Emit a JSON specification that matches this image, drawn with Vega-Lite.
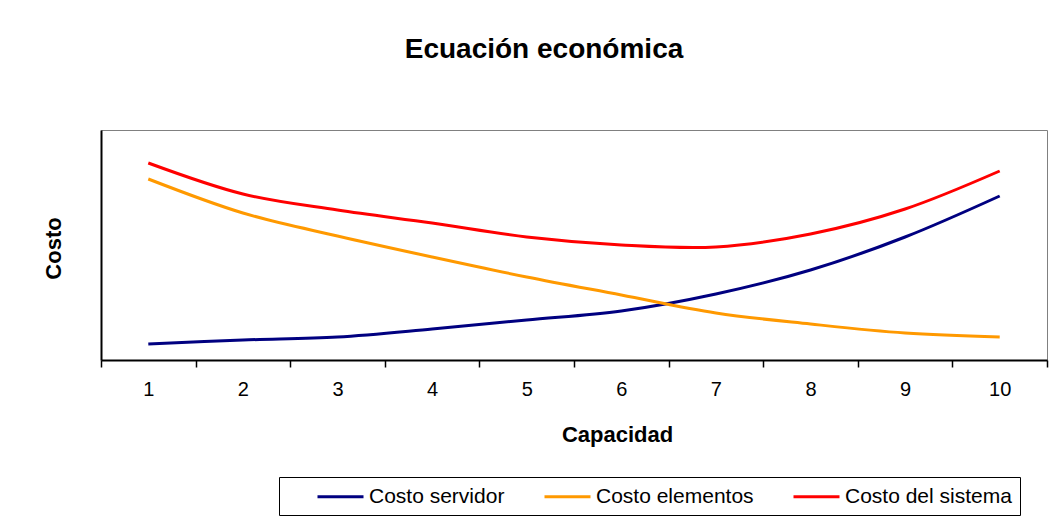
{
  "$schema": "https://vega.github.io/schema/vega-lite/v6.json",
  "width": 946,
  "height": 230,
  "autosize": {"type": "none"},
  "padding": {"left": 101, "top": 130, "right": 14, "bottom": 169},
  "background": "white",
  "title": {
    "text": "Ecuación económica",
    "font": "Liberation Sans",
    "fontSize": 28,
    "fontWeight": "bold",
    "color": "black",
    "anchor": "middle",
    "frame": "group",
    "dx": -30,
    "offset": 44,
    "baseline": "alphabetic"
  },
  "data": {
    "values": [
      {"capacidad": 1, "serie": "Costo servidor", "costo": 16},
      {"capacidad": 2, "serie": "Costo servidor", "costo": 20},
      {"capacidad": 3, "serie": "Costo servidor", "costo": 23},
      {"capacidad": 4, "serie": "Costo servidor", "costo": 31},
      {"capacidad": 5, "serie": "Costo servidor", "costo": 40},
      {"capacidad": 6, "serie": "Costo servidor", "costo": 49},
      {"capacidad": 7, "serie": "Costo servidor", "costo": 66},
      {"capacidad": 8, "serie": "Costo servidor", "costo": 90},
      {"capacidad": 9, "serie": "Costo servidor", "costo": 123},
      {"capacidad": 10, "serie": "Costo servidor", "costo": 164},
      {"capacidad": 1, "serie": "Costo elementos", "costo": 181},
      {"capacidad": 2, "serie": "Costo elementos", "costo": 147},
      {"capacidad": 3, "serie": "Costo elementos", "costo": 124},
      {"capacidad": 4, "serie": "Costo elementos", "costo": 103},
      {"capacidad": 5, "serie": "Costo elementos", "costo": 83},
      {"capacidad": 6, "serie": "Costo elementos", "costo": 65},
      {"capacidad": 7, "serie": "Costo elementos", "costo": 47},
      {"capacidad": 8, "serie": "Costo elementos", "costo": 36},
      {"capacidad": 9, "serie": "Costo elementos", "costo": 27},
      {"capacidad": 10, "serie": "Costo elementos", "costo": 23},
      {"capacidad": 1, "serie": "Costo del sistema", "costo": 197},
      {"capacidad": 2, "serie": "Costo del sistema", "costo": 166},
      {"capacidad": 3, "serie": "Costo del sistema", "costo": 150},
      {"capacidad": 4, "serie": "Costo del sistema", "costo": 137},
      {"capacidad": 5, "serie": "Costo del sistema", "costo": 123},
      {"capacidad": 6, "serie": "Costo del sistema", "costo": 115},
      {"capacidad": 7, "serie": "Costo del sistema", "costo": 113},
      {"capacidad": 8, "serie": "Costo del sistema", "costo": 126},
      {"capacidad": 9, "serie": "Costo del sistema", "costo": 151},
      {"capacidad": 10, "serie": "Costo del sistema", "costo": 189}
    ]
  },
  "mark": {"type": "line", "strokeWidth": 3, "interpolate": "cardinal", "tension": 0},
  "encoding": {
    "x": {
      "field": "capacidad",
      "type": "ordinal",
      "scale": {"type": "band", "paddingInner": 0, "paddingOuter": 0},
      "axis": {
        "title": "Capacidad",
        "titleFont": "Liberation Sans",
        "titleFontSize": 22,
        "titleFontWeight": "bold",
        "titleColor": "black",
        "titlePadding": 25,
        "titleX": 516,
        "labelAngle": 0,
        "labelFont": "Liberation Sans",
        "labelFontSize": 20,
        "labelColor": "black",
        "labelPadding": 12,
        "tickBand": "extent",
        "ticks": true,
        "tickSize": 7,
        "tickColor": "black",
        "tickWidth": 1.5,
        "domainColor": "black",
        "domainWidth": 2,
        "grid": false
      }
    },
    "y": {
      "field": "costo",
      "type": "quantitative",
      "scale": {"domain": [0, 230], "nice": false},
      "axis": {
        "title": "Costo",
        "titleFont": "Liberation Sans",
        "titleFontSize": 22,
        "titleFontWeight": "bold",
        "titleColor": "black",
        "titlePadding": 36,
        "titleY": 118,
        "labels": false,
        "ticks": false,
        "grid": false,
        "domainColor": "black",
        "domainWidth": 2
      }
    },
    "color": {
      "field": "serie",
      "type": "nominal",
      "scale": {
        "domain": ["Costo servidor", "Costo elementos", "Costo del sistema"],
        "range": ["#000080", "#FF9900", "#FF0000"]
      },
      "legend": {
        "orient": "none",
        "legendX": 178,
        "legendY": 347,
        "direction": "horizontal",
        "title": " ",
        "titleOrient": "left",
        "titleFontSize": 1,
        "titlePadding": 42,
        "symbolType": "M-2.3,0L2.3,0",
        "symbolSize": 400,
        "symbolStrokeWidth": 3,
        "labelFont": "Liberation Sans",
        "labelFontSize": 21,
        "labelColor": "black",
        "labelOffset": 17,
        "labelLimit": 300,
        "columnPadding": 33,
        "strokeColor": "black",
        "padding": 8
      }
    }
  },
  "config": {"view": {"stroke": "#808080", "strokeWidth": 1}}
}
